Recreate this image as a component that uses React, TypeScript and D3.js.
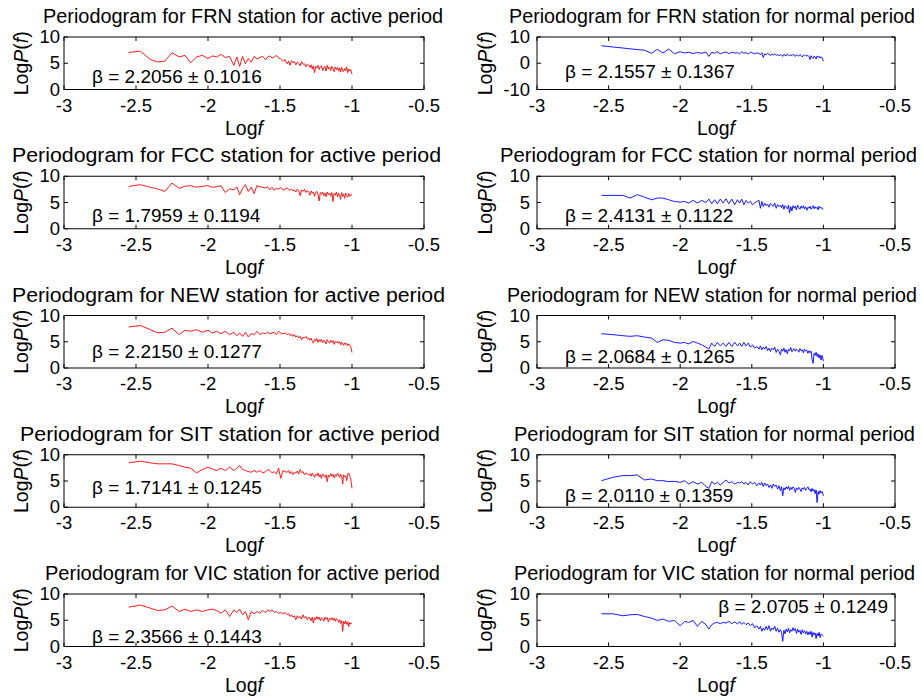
import React from 'react';
import * as d3 from 'd3';

// ---------------- DATA ----------------
const LOG_FREQ = [
  -2.55, -2.47, -2.40, -2.35, -2.30, -2.25, -2.20, -2.16, -2.12, -2.08, -2.04, -2.00,
  -1.97, -1.94, -1.91, -1.88, -1.85, -1.82, -1.80, -1.78, -1.76, -1.74, -1.72, -1.70, -1.68, -1.66, -1.64, -1.62, -1.60,
  -1.585, -1.57, -1.555, -1.54, -1.525, -1.51, -1.495, -1.48, -1.465, -1.45,
  -1.44, -1.43, -1.42, -1.41, -1.40, -1.39, -1.38, -1.37, -1.36, -1.35, -1.34, -1.33, -1.32, -1.31, -1.30,
  -1.292, -1.284, -1.276, -1.268, -1.26, -1.252, -1.244, -1.236, -1.228, -1.22, -1.212, -1.204, -1.196, -1.188, -1.18,
  -1.172, -1.164, -1.156, -1.148, -1.14, -1.132, -1.124, -1.116, -1.108, -1.10,
  -1.093, -1.086, -1.079, -1.072, -1.065, -1.058, -1.051, -1.044, -1.037, -1.030, -1.023, -1.016, -1.009, -1.0,
];

const FRN_ACTIVE = [
  7.05, 7.3, 5.7, 5.25, 5.4, 7.0, 6.2, 6.5, 5.1, 6.2, 6.5, 5.9,
  6.4, 6.2, 6.7, 6.1, 6.3, 4.6, 6.2, 4.4, 6.3, 4.9, 5.9, 5.2, 6.3, 5.8, 6.1, 6.3, 5.7,
  6.2, 6.4, 6.0, 6.2, 6.5, 6.0, 5.8, 5.4, 5.7, 4.9,
  5.4, 4.6, 5.5, 5.1, 5.3, 4.7, 5.2, 5.0, 4.5, 5.3, 4.8, 4.9, 4.3, 4.8, 4.6,
  4.2, 4.7, 3.9, 4.5, 3.2, 4.4, 4.1, 4.6, 3.8, 4.3, 4.5, 3.6, 4.2, 4.4, 3.5,
  4.6, 3.9, 4.3, 3.6, 4.4, 4.0, 3.4, 4.3, 3.8, 4.2,
  3.5, 4.1, 3.3, 4.2, 3.7, 3.4, 4.0, 3.6, 4.3, 3.2, 3.9, 3.5, 3.8, 2.9,
];
const FRN_NORMAL = [
  6.65, 6.2, 5.8, 5.5, 5.2, 5.0, 3.8, 5.3, 3.9, 5.4, 3.6, 4.4,
  3.9, 4.2, 3.7, 4.1, 3.8, 4.3, 2.6, 4.2, 3.8, 4.4, 3.6, 4.0, 4.3, 3.7, 4.2, 3.9, 4.0,
  3.6, 4.4, 3.8, 4.1, 3.5, 4.2, 3.9, 3.6, 4.0, 3.7,
  3.3, 4.0, 2.2, 3.6, 3.2, 3.8, 3.4, 2.9, 3.5, 3.1, 3.6, 3.0, 3.4, 2.8, 3.3,
  3.1, 2.6, 3.4, 3.0, 2.8, 3.5, 3.2, 2.7, 3.3, 2.9, 3.4, 3.1, 2.6, 3.2, 3.0,
  2.7, 3.3, 2.9, 2.4, 3.1, 2.8, 3.2, 2.7, 3.0, 2.5,
  1.4, 2.9, 2.2, 1.8, 2.7, 2.4, 1.6, 2.8, 2.3, 2.6, 1.9, 2.5, 2.1, 0.8,
];
const FCC_ACTIVE = [
  8.06, 8.4, 7.9, 7.6, 7.1, 8.7, 7.7, 8.1, 8.2, 7.9, 8.1, 8.2,
  7.9, 8.0, 8.2, 6.9, 7.6, 7.4, 8.0, 6.5, 7.7, 8.4, 7.1, 7.9, 6.7, 8.2, 8.0, 7.9, 7.75,
  8.0, 7.4, 7.9, 7.3, 7.75, 7.55, 7.9, 7.4, 7.55, 7.75,
  7.5, 7.3, 7.6, 7.2, 7.4, 7.0, 7.5, 7.3, 6.3, 7.4, 7.1, 7.5, 6.9, 7.3, 7.0,
  6.4, 7.2, 6.8, 7.0, 6.2, 6.9, 7.1, 6.5, 5.3, 6.9, 6.6, 7.0, 6.3, 6.8, 6.1,
  7.0, 6.5, 6.8, 6.2, 6.9, 5.2, 6.7, 6.4, 7.0, 6.1,
  6.8, 6.3, 5.6, 6.9, 6.2, 6.6, 5.8, 6.8, 6.3, 6.0, 6.7, 6.2, 6.5, 6.4,
];
const FCC_NORMAL = [
  6.35, 6.35, 6.35, 5.84, 6.5, 6.03, 5.52, 5.84, 5.84, 5.52, 5.2, 5.07,
  5.2, 4.9, 5.4, 4.9, 5.4, 5.0, 5.65, 4.76, 5.52, 4.76, 5.65, 4.9, 5.7, 4.76, 5.65, 4.57, 5.52,
  4.9, 5.65, 4.57, 5.4, 4.9, 5.2, 4.57, 4.9, 5.2, 5.4,
  3.9, 5.2, 4.25, 4.9, 4.4, 4.7, 4.1, 4.8, 4.5, 4.3, 4.9, 3.9, 4.6, 4.2, 4.5,
  4.0, 4.6, 3.7, 4.4, 4.1, 3.8, 4.5, 3.0, 4.2, 3.4, 4.4, 3.9, 4.3, 3.6, 4.5,
  4.0, 3.7, 4.3, 3.9, 4.4, 3.8, 4.2, 3.5, 4.1, 3.9,
  4.3, 3.7, 4.0, 4.4, 3.8, 4.2, 3.9, 4.1, 3.6, 4.3, 3.9, 4.1, 3.8, 3.75,
];
const NEW_ACTIVE = [
  7.8, 8.1, 7.3, 6.7, 6.8, 7.6, 6.35, 7.2, 7.0, 7.3, 6.8, 7.2,
  6.67, 7.0, 6.54, 7.0, 6.35, 6.8, 6.15, 6.67, 6.03, 6.8, 5.9, 6.54, 6.35, 7.0, 6.35, 6.67, 6.54,
  6.8, 6.54, 6.67, 6.8, 6.35, 7.0, 6.67, 6.54, 6.67, 6.35,
  6.54, 6.15, 6.5, 6.03, 6.35, 5.9, 6.15, 5.7, 6.03, 5.38, 5.9, 5.7, 6.03, 5.51, 5.7,
  5.3, 5.7, 5.1, 4.74, 5.5, 5.2, 5.6, 4.9, 5.4, 5.0, 5.5, 4.8, 5.3, 5.1, 4.6,
  5.4, 5.0, 4.74, 5.3, 4.9, 5.2, 4.5, 5.06, 4.8, 5.1,
  4.7, 5.0, 4.4, 4.9, 4.6, 4.3, 4.8, 4.5, 4.7, 4.2, 4.6, 4.4, 4.1, 2.95,
];
const NEW_NORMAL = [
  6.54, 6.35, 6.15, 6.03, 6.15, 5.9, 5.7, 4.87, 5.38, 5.26, 4.87, 4.74,
  4.87, 4.6, 5.06, 4.74, 4.42, 3.97, 3.59, 4.74, 4.1, 4.87, 4.2, 4.74, 4.1, 4.87, 4.1, 4.9, 4.2,
  4.74, 4.1, 4.87, 4.2, 4.74, 3.97, 4.42, 3.78, 4.1, 3.59,
  4.2, 3.46, 3.97, 3.59, 4.1, 3.33, 3.78, 3.14, 3.78, 3.46, 3.97, 2.95, 3.59, 3.14, 2.5,
  3.6, 3.2, 3.8, 3.0, 3.5, 2.7, 3.6, 3.3, 3.9, 3.1, 3.5, 3.7, 3.2, 3.6, 3.4,
  3.0, 3.7, 3.3, 3.5, 2.9, 3.6, 3.2, 3.4, 2.8, 3.3,
  2.9, 3.2, 1.6, 0.9, 2.8, 2.4, 3.0, 2.2, 2.7, 1.9, 2.5, 1.5, 2.4, 1.3,
];
const SIT_ACTIVE = [
  8.46, 8.78, 8.46, 8.27, 8.27, 8.27, 7.95, 7.63, 7.44, 6.54, 7.18, 7.63,
  7.31, 6.99, 7.44, 6.99, 7.63, 6.99, 7.44, 7.95, 7.18, 6.99, 6.79, 6.67, 6.99, 6.67, 6.99, 6.54, 6.79,
  7.18, 6.99, 6.54, 6.79, 6.35, 7.44, 5.51, 6.99, 6.79, 6.67,
  6.99, 6.4, 6.8, 6.2, 6.67, 6.5, 6.9, 6.3, 7.18, 6.6, 6.8, 6.2, 6.54, 6.35, 6.1,
  6.4, 5.9, 6.5, 6.1, 5.7, 6.3, 6.0, 6.54, 5.8, 6.2, 5.5, 6.35, 6.0, 5.7, 6.2,
  4.87, 6.1, 5.8, 6.4, 5.9, 6.3, 5.6, 6.2, 5.9, 6.5,
  6.0, 5.7, 6.3, 5.9, 4.42, 6.2, 5.8, 6.0, 5.06, 6.3, 6.54, 6.0, 5.4, 3.59,
];
const SIT_NORMAL = [
  5.06, 5.7, 6.03, 6.03, 6.15, 5.2, 5.38, 5.06, 5.06, 4.87, 4.94, 4.74,
  5.06, 4.42, 4.87, 4.42, 4.74, 3.97, 3.59, 4.87, 4.42, 4.74, 4.23, 4.74, 5.2, 4.62, 4.87, 4.42, 4.74,
  4.62, 4.87, 4.42, 4.74, 4.23, 4.87, 4.42, 4.74, 4.1, 4.62,
  4.23, 4.74, 3.97, 4.62, 4.1, 4.42, 3.78, 4.23, 3.59, 4.42, 3.97, 4.23, 3.46, 4.1, 3.14,
  3.9, 2.18, 3.7, 3.3, 3.9, 3.5, 4.0, 3.2, 3.8, 3.4, 3.9, 3.6, 2.82, 3.7, 3.3,
  3.8, 3.5, 3.0, 3.7, 3.4, 3.8, 3.2, 3.6, 3.9, 3.3,
  3.5, 2.9, 3.6, 3.1, 3.4, 2.6, 3.3, 0.9, 3.0, 2.5, 3.2, 2.7, 3.0, 2.18,
];
const VIC_ACTIVE = [
  7.49, 7.9, 7.3, 6.86, 6.98, 7.7, 6.67, 7.11, 6.67, 6.98, 6.67, 6.98,
  7.11, 6.86, 6.35, 6.98, 5.72, 6.98, 6.48, 7.11, 6.04, 6.67, 5.09, 6.67, 6.23, 6.67, 6.35, 6.86, 6.48,
  6.98, 6.67, 6.98, 6.48, 6.67, 6.35, 6.48, 6.23, 6.48, 6.04,
  6.23, 5.72, 6.04, 5.6, 5.85, 5.09, 5.85, 5.41, 5.72, 5.22, 6.04, 5.41, 5.72, 5.09, 5.6,
  5.4, 4.9, 5.6, 4.47, 5.5, 5.1, 5.7, 5.2, 5.6, 4.9, 5.5, 5.3, 4.8, 5.6, 5.2,
  5.5, 4.7, 5.4, 5.1, 5.5, 5.0, 5.4, 4.8, 5.3, 5.0,
  4.6, 5.1, 4.4, 4.9, 2.9, 4.8, 4.3, 4.9, 4.2, 4.7, 3.8, 4.6, 4.3, 4.5,
];
const VIC_NORMAL = [
  6.23, 6.23, 5.85, 6.04, 6.1, 5.72, 5.41, 4.97, 5.22, 4.78, 4.97, 3.96,
  4.78, 4.59, 4.97, 3.84, 4.78, 4.15, 3.33, 4.15, 4.47, 4.59, 4.34, 4.59, 4.47, 4.78, 4.34, 4.72, 4.28,
  4.72, 4.22, 4.59, 4.15, 4.47, 3.96, 4.34, 3.52, 3.96, 3.33,
  3.84, 2.9, 3.52, 3.08, 3.84, 3.21, 3.96, 2.9, 3.52, 3.21, 3.84, 2.9, 3.52, 2.7, 3.21,
  2.6, 1.0, 3.1, 2.4, 3.3, 2.8, 3.5, 2.6, 3.2, 2.9, 3.6, 3.0, 3.4, 2.5, 3.3,
  2.7, 3.1, 2.3, 3.2, 2.6, 3.0, 2.4, 2.9, 2.2, 2.8,
  2.3, 2.9, 1.8, 2.7, 2.2, 2.6, 1.5, 2.5, 2.0, 2.7, 1.7, 2.4, 2.2, 2.0,
];

const STATIONS = ['FRN', 'FCC', 'NEW', 'SIT', 'VIC'];
const PERIODS = ['active', 'normal'];
const SERIES = [
  [FRN_ACTIVE, FRN_NORMAL],
  [FCC_ACTIVE, FCC_NORMAL],
  [NEW_ACTIVE, NEW_NORMAL],
  [SIT_ACTIVE, SIT_NORMAL],
  [VIC_ACTIVE, VIC_NORMAL],
];
const BETA = [
  [['2.2056', '0.1016'], ['2.1557', '0.1367']],
  [['1.7959', '0.1194'], ['2.4131', '0.1122']],
  [['2.2150', '0.1277'], ['2.0684', '0.1265']],
  [['1.7141', '0.1245'], ['2.0110', '0.1359']],
  [['2.3566', '0.1443'], ['2.0705', '0.1249']],
];
const X_TICKS = [-3, -2.5, -2, -1.5, -1, -0.5];
const Y_TICKS = [0, 5, 10];
const Y_TICKS_WIDE = [-10, 0, 10];

// ---------------- LAYOUT ----------------
const FONT = '"Liberation Sans", Arial, Helvetica, sans-serif';
const COLS = [
  { x0: 64, x1: 424, ylabX: 28, tickGap: 4, color: '#ff0000' },
  { x0: 537, x1: 895, ylabX: 492, tickGap: 7, color: '#0000ff' },
];
const ROW_TOP0 = 37;
const ROW_STEP = 139.25;
const BOX_H = 52.5;
const TITLE_SPANS = [
  [[43, 443], [509, 915]],
  [[12, 441], [500, 917]],
  [[12, 445], [507, 917]],
  [[20, 440], [514, 915]],
  [[45, 440], [514, 915]],
];
// beta label baseline offset from box bottom
const BETA_OFFSET = [
  [-7, -12],
  [-6.5, -6.5],
  [-10, -5.5],
  [-13, -5],
  [-4, -34],
];

function Panel({ row, col }: { row: number; col: number }) {
  const c = COLS[col];
  const top = ROW_TOP0 + row * ROW_STEP;
  const bottom = top + BOX_H;
  const wide = row === 0 && col === 1;
  const yDomain = wide ? [-10, 10] : [0, 10];
  const yTicks = wide ? Y_TICKS_WIDE : Y_TICKS;
  const x = d3.scaleLinear().domain([-3, -0.5]).range([c.x0, c.x1]);
  const y = d3.scaleLinear().domain(yDomain).range([bottom, top]);
  const vals = SERIES[row][col];
  const n = Math.min(vals.length, LOG_FREQ.length);
  const pts: [number, number][] = [];
  for (let i = 0; i < n; i++) pts.push([LOG_FREQ[i], vals[i]]);
  const path = d3.line<[number, number]>().x(d => x(d[0])).y(d => y(d[1]))(pts) || '';
  const tl = 4;
  const [ts, te] = TITLE_SPANS[row][col];
  const title = `Periodogram for ${STATIONS[row]} station for ${PERIODS[col]} period`;
  const beta = BETA[row][col];
  const betaText = `\u03B2 = ${beta[0]} \u00B1 ${beta[1]}`;
  const betaRight = row === 4 && col === 1;
  const cx = (c.x0 + c.x1) / 2;
  const cy = (top + bottom) / 2;
  return (
    <g>
      <path d={path} fill="none" stroke={c.color} strokeWidth={0.9} strokeLinejoin="round" />
      <rect x={c.x0} y={top} width={c.x1 - c.x0} height={BOX_H} fill="none" stroke="#000" strokeWidth={1} />
      {X_TICKS.map(t => (
        <g key={'x' + t}>
          <line x1={x(t)} x2={x(t)} y1={bottom} y2={bottom - tl} stroke="#000" strokeWidth={1} />
          <line x1={x(t)} x2={x(t)} y1={top} y2={top + tl} stroke="#000" strokeWidth={1} />
          <text x={x(t)} y={bottom + 22} textAnchor="middle" fontSize={18.5} fontFamily={FONT} fill="#000">
            {String(t)}
          </text>
        </g>
      ))}
      {yTicks.map(t => (
        <g key={'y' + t}>
          <line x1={c.x0} x2={c.x0 + tl} y1={y(t)} y2={y(t)} stroke="#000" strokeWidth={1} />
          <line x1={c.x1} x2={c.x1 - tl} y1={y(t)} y2={y(t)} stroke="#000" strokeWidth={1} />
          <text x={c.x0 - c.tickGap} y={y(t) + 6} textAnchor="end" fontSize={18.5} fontFamily={FONT} fill="#000">
            {String(t)}
          </text>
        </g>
      ))}
      <text
        x={ts}
        y={top - 14}
        fontSize={19.5}
        fontFamily={FONT}
        textLength={te - ts}
        lengthAdjust="spacingAndGlyphs"
        fill="#000"
      >
        {title}
      </text>
      <text
        transform={`translate(${c.ylabX},${cy}) rotate(-90)`}
        textAnchor="middle"
        fontSize={19.5}
        fontFamily={FONT}
        fill="#000"
      >
        Log<tspan fontStyle="italic">P</tspan>(<tspan fontStyle="italic">f</tspan>)
      </text>
      <text x={cx} y={bottom + 45} textAnchor="middle" fontSize={19.5} fontFamily={FONT} fill="#000">
        Log<tspan fontStyle="italic">f</tspan>
      </text>
      <text
        x={betaRight ? c.x1 - 7 : c.x0 + 28}
        y={bottom + BETA_OFFSET[row][col]}
        textAnchor={betaRight ? 'end' : 'start'}
        fontSize={19}
        fontFamily={FONT}
        fill="#000"
      >
        {betaText}
      </text>
    </g>
  );
}

export default function App() {
  return (
    <svg
      width={922}
      height={700}
      style={{ position: 'absolute', left: 0, top: 0, background: '#fff' }}
    >
      <rect x={0} y={0} width={922} height={700} fill="#fff" />
      {STATIONS.map((_, r) =>
        PERIODS.map((__, cIdx) => <Panel key={`${r}-${cIdx}`} row={r} col={cIdx} />)
      )}
    </svg>
  );
}
